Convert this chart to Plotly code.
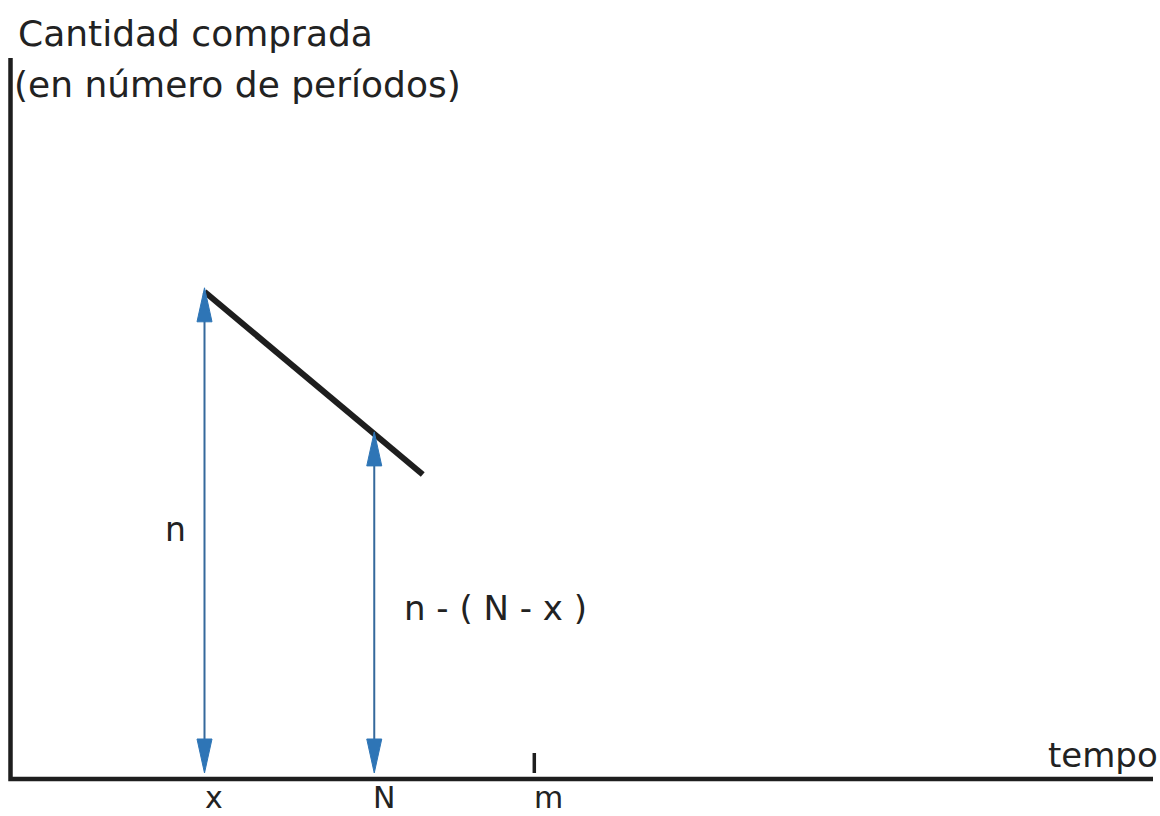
import plotly.graph_objects as go

# Time positions on the horizontal axis
t_labels = ["x", "N", "m"]
t_values = [4.0, 7.5, 10.8]

# Quantity bought at the moment of purchase x, and the end of the drawn segment
n_value = 12.0
seg_end = 8.5

BLACK = "#1e1e1e"
BLUE = "#2e75b6"
SHAFT = "#35699c"
FONT = "DejaVu Sans"

W, H = 1160, 816
PX_X, PX_Y = 48.5, 40.6          # pixels per unit on each axis
ORIGIN_PX = (10.5, 779.0)        # pixel location of (0, 0)

x_range = [-ORIGIN_PX[0] / PX_X, (W - ORIGIN_PX[0]) / PX_X]
y_range = [-(H - ORIGIN_PX[1]) / PX_Y, ORIGIN_PX[1] / PX_Y]

x_pos, N_pos, m_pos = t_values
x_axis_end = (1153 - ORIGIN_PX[0]) / PX_X
y_axis_top = (ORIGIN_PX[1] - 58) / PX_Y

fig = go.Figure()

# Axes drawn as plain lines
fig.add_trace(go.Scatter(x=[0, 0, x_axis_end], y=[y_axis_top, 0, 0], mode="lines",
                         line=dict(color=BLACK, width=4.5), hoverinfo="skip"))

# Decreasing quantity: n - (t - x)
line_x = [x_pos, seg_end]
line_y = [n_value - (t - x_pos) for t in line_x]
fig.add_trace(go.Scatter(x=line_x, y=line_y, mode="lines",
                         line=dict(color=BLACK, width=6), hoverinfo="skip"))

# Tick mark at m
tick_lo = 6 / PX_Y
fig.add_trace(go.Scatter(x=[m_pos, m_pos], y=[tick_lo, 26 / PX_Y], mode="lines",
                         line=dict(color=BLACK, width=3.5), hoverinfo="skip"))

# Double-headed measuring arrows
head_len = 34 / PX_Y
head_half = 7.5 / PX_X
bottom_tip = 6 / PX_Y


def double_arrow(xc, top_tip):
    fig.add_trace(go.Scatter(x=[xc, xc], y=[bottom_tip + head_len * 0.9, top_tip - head_len * 0.9],
                             mode="lines", line=dict(color=SHAFT, width=2), hoverinfo="skip"))
    for tip, d in ((top_tip, -1), (bottom_tip, 1)):
        base = tip + d * head_len
        fig.add_trace(go.Scatter(x=[xc, xc - head_half, xc + head_half, xc],
                                 y=[tip, base, base, tip], mode="lines", fill="toself",
                                 fillcolor=BLUE, line=dict(color=BLUE, width=1),
                                 hoverinfo="skip"))


n_at_N = n_value - (N_pos - x_pos)
double_arrow(x_pos, n_value + 4 / PX_Y)
double_arrow(N_pos, n_at_N + 2 / PX_Y)

annotations = []
# Time labels under the axis
for lab, val, sh in zip(t_labels, t_values, [9, 10, 14]):
    annotations.append(dict(x=val, y=-18 / PX_Y, xref="x", yref="y", text=lab, showarrow=False,
                            xshift=sh, xanchor="center", yanchor="middle", borderpad=0,
                            font=dict(family=FONT, size=30, color="#222")))

annotations.append(dict(x=x_pos, y=n_value / 2, xref="x", yref="y", text="n", showarrow=False,
                        xshift=-29, yshift=6, xanchor="center", yanchor="middle",
                        font=dict(family=FONT, size=33, color="#222")))
annotations.append(dict(x=N_pos, y=n_at_N / 2, xref="x", yref="y", text="n - ( N - x )",
                        showarrow=False, xshift=28, yshift=-2, xanchor="left", yanchor="middle",
                        font=dict(family=FONT, size=34, color="#222")))

# Axis titles
annotations.append(dict(x=16 / W, y=1 - 34 / H, xref="paper", yref="paper",
                        text="Cantidad comprada", showarrow=False, xanchor="left",
                        yanchor="middle", font=dict(family=FONT, size=36, color="#222")))
annotations.append(dict(x=12 / W, y=1 - 85 / H, xref="paper", yref="paper",
                        text="(en número de períodos)", showarrow=False, xanchor="left",
                        yanchor="middle", font=dict(family=FONT, size=36, color="#222")))
annotations.append(dict(x=1160 / W, y=1 - 755 / H, xref="paper", yref="paper",
                        text="tempo", showarrow=False, xanchor="right",
                        yanchor="middle", font=dict(family=FONT, size=34, color="#222")))

fig.update_layout(
    width=W, height=H,
    margin=dict(l=0, r=0, t=0, b=0),
    paper_bgcolor="white", plot_bgcolor="white",
    showlegend=False,
    xaxis=dict(range=x_range, visible=False, fixedrange=True),
    yaxis=dict(range=y_range, visible=False, fixedrange=True),
    annotations=annotations,
)

fig.write_html("out.html", config={"displayModeBar": False})
